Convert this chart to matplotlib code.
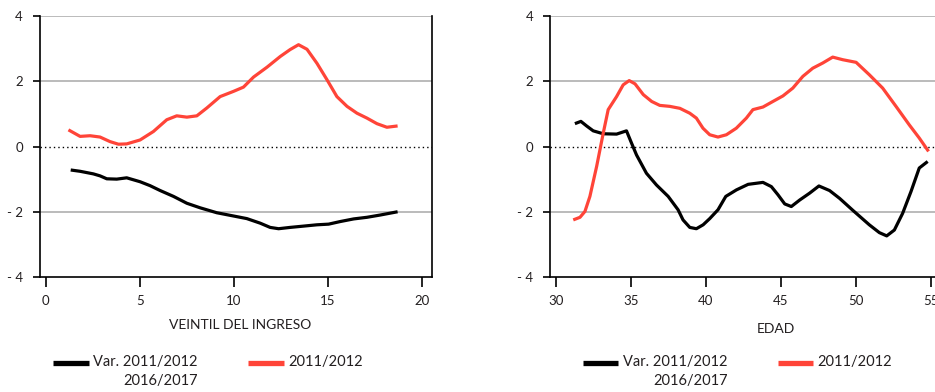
import matplotlib
matplotlib.use('Agg')
import matplotlib.pyplot as plt
from matplotlib.lines import Line2D

plt.rcParams['font.family'] = ['Lato', 'DejaVu Sans']

# income twentile panel
veintil_x_var = [1.33, 1.83, 2.54, 2.89, 3.25, 3.78, 4.31, 5.02, 5.55, 6.09, 6.80, 7.51,
                 8.22, 9.10, 9.99, 10.70, 11.41, 11.94, 12.39, 13.0, 13.72, 14.43,
                 15.05, 15.67, 16.38, 17.09, 17.80, 18.72]
veintil_var = [-0.72, -0.76, -0.84, -0.90, -0.99, -1.00, -0.96, -1.08, -1.20, -1.35, -1.53,
               -1.74, -1.88, -2.03, -2.13, -2.21, -2.35, -2.48, -2.52, -2.48, -2.44,
               -2.40, -2.38, -2.30, -2.22, -2.17, -2.10, -2.00]
veintil_x_base = [1.21, 1.83, 2.36, 2.89, 3.42, 3.87, 4.31, 5.02, 5.73, 6.44, 6.97, 7.51,
                  8.04, 8.57, 9.28, 9.99, 10.52, 11.06, 11.77, 12.48, 13.0, 13.45, 13.9,
                  14.43, 14.96, 15.49, 16.03, 16.56, 17.09, 17.62, 18.15, 18.72]
veintil_base = [0.51, 0.31, 0.33, 0.29, 0.15, 0.07, 0.08, 0.20, 0.46, 0.82, 0.94, 0.90,
                0.94, 1.18, 1.53, 1.69, 1.82, 2.13, 2.43, 2.76, 2.97, 3.12, 2.98, 2.55,
                2.05, 1.53, 1.23, 1.02, 0.87, 0.70, 0.59, 0.63]

# age panel
edad_x_var = [31.26, 31.66, 32.04, 32.48, 33.15, 34.04, 34.70, 35.04, 35.37, 36.03, 36.70,
              37.48, 38.14, 38.47, 38.92, 39.36, 39.81, 40.25, 40.80, 41.32, 42.03, 42.81,
              43.80, 44.36, 44.80, 45.25, 45.69, 46.25, 46.91, 47.53, 48.24, 48.91, 49.80,
              50.89, 51.56, 52.05, 52.56, 53.11, 53.67, 54.22, 54.78]
edad_var = [0.70, 0.77, 0.63, 0.48, 0.39, 0.38, 0.48, 0.10, -0.26, -0.82, -1.18, -1.53,
            -1.94, -2.25, -2.48, -2.52, -2.40, -2.21, -1.94, -1.53, -1.33, -1.16, -1.10,
            -1.23, -1.48, -1.76, -1.84, -1.64, -1.43, -1.21, -1.35, -1.59, -1.96, -2.40,
            -2.64, -2.74, -2.56, -2.05, -1.38, -0.66, -0.46]
edad_x_base = [31.15, 31.60, 31.93, 32.26, 32.71, 33.15, 33.48, 34.04, 34.48, 34.88, 35.27,
               35.82, 36.38, 36.92, 37.59, 38.26, 38.92, 39.36, 39.80, 40.25, 40.80, 41.36,
               42.02, 42.69, 43.13, 43.80, 44.46, 45.13, 45.79, 46.46, 47.12, 47.79, 48.45,
               49.12, 50.01, 50.89, 51.78, 52.67, 53.56, 54.22, 54.84]
edad_base = [-2.25, -2.17, -1.99, -1.53, -0.61, 0.41, 1.13, 1.53, 1.89, 2.02, 1.92, 1.59,
             1.38, 1.26, 1.23, 1.17, 1.02, 0.87, 0.56, 0.36, 0.29, 0.36, 0.56, 0.87, 1.13,
             1.21, 1.38, 1.55, 1.79, 2.15, 2.40, 2.56, 2.74, 2.66, 2.58, 2.20, 1.79, 1.23,
             0.66, 0.26, -0.15]

yticks = [-4, -2, 0, 2, 4]
ytick_labels = ['- 4', '- 2', '0', '2', '4']
label_var = 'Var. 2011/2012\n2016/2017'
label_base = '2011/2012'

BLACK = '#000000'
RED = '#ff4438'
TXT = '#231f20'
GRID = '#a8a8a8'

W, H = 935, 392
fig = plt.figure(figsize=(W / 100, H / 100), dpi=100)


def px_box(x0, y0, x1, y1):
    return [x0 / W, 1 - y1 / H, (x1 - x0) / W, (y1 - y0) / H]


def style(ax, xticks, xlim, right_spine):
    ax.set_xlim(*xlim)
    ax.set_ylim(-4, 4)
    for y in (4, 2, -2):
        ax.axhline(y, color=GRID, lw=1.1, zorder=1)
    ax.axhline(0, color=BLACK, lw=1.0, ls=(0, (1, 2.2)), zorder=1)
    ax.spines['top'].set_visible(False)
    ax.spines['right'].set_visible(right_spine)
    for s in ('left', 'bottom', 'right'):
        ax.spines[s].set_linewidth(1.2)
    ax.set_yticks(yticks)
    ax.set_yticklabels(ytick_labels)
    ax.set_xticks(xticks)
    ax.tick_params(axis='y', direction='out', length=5, width=1.2, pad=7,
                   labelsize=9.5, labelcolor=TXT)
    ax.tick_params(axis='x', direction='out', length=7, width=1.2, pad=6,
                   labelsize=9.5, labelcolor=TXT)


def legend_entry(x0, x1, y, color, text, tx):
    fig.add_artist(Line2D([x0 / W, x1 / W], [1 - y / H, 1 - y / H],
                          color=color, lw=3.8, solid_capstyle='butt'))
    fig.text(tx / W, 1 - (y - 8) / H, text, ha='left', va='top', fontsize=10.5,
             color=TXT, multialignment='right', linespacing=1.45)


line_kw = dict(lw=2.3, zorder=3, solid_joinstyle='round', solid_capstyle='butt')

ax1 = fig.add_axes(px_box(39.5, 16, 432, 277))
ax1.plot(veintil_x_var, veintil_var, color=BLACK, **line_kw)
ax1.plot(veintil_x_base, veintil_base, color=RED, **line_kw)
style(ax1, [0, 5, 10, 15, 20], (-0.33, 20.55), True)
fig.text(240 / W, 1 - 325 / H, 'VEINTIL DEL INGRESO', ha='center', va='center',
         fontsize=10, color=TXT)

ax2 = fig.add_axes(px_box(550, 16, 935, 277))
ax2.plot(edad_x_var, edad_var, color=BLACK, **line_kw)
ax2.plot(edad_x_base, edad_base, color=RED, **line_kw)
style(ax2, [30, 35, 40, 45, 50, 55], (29.6, 55.27), False)
fig.text(776 / W, 1 - 329 / H, 'EDAD', ha='center', va='center',
         fontsize=10, color=TXT)

legend_entry(53, 89, 363, BLACK, label_var, 93)
legend_entry(248, 284, 363, RED, label_base, 288)
legend_entry(583, 618, 363, BLACK, label_var, 623)
legend_entry(778, 813, 363, RED, label_base, 817)

fig.savefig('out.png', dpi=100)
